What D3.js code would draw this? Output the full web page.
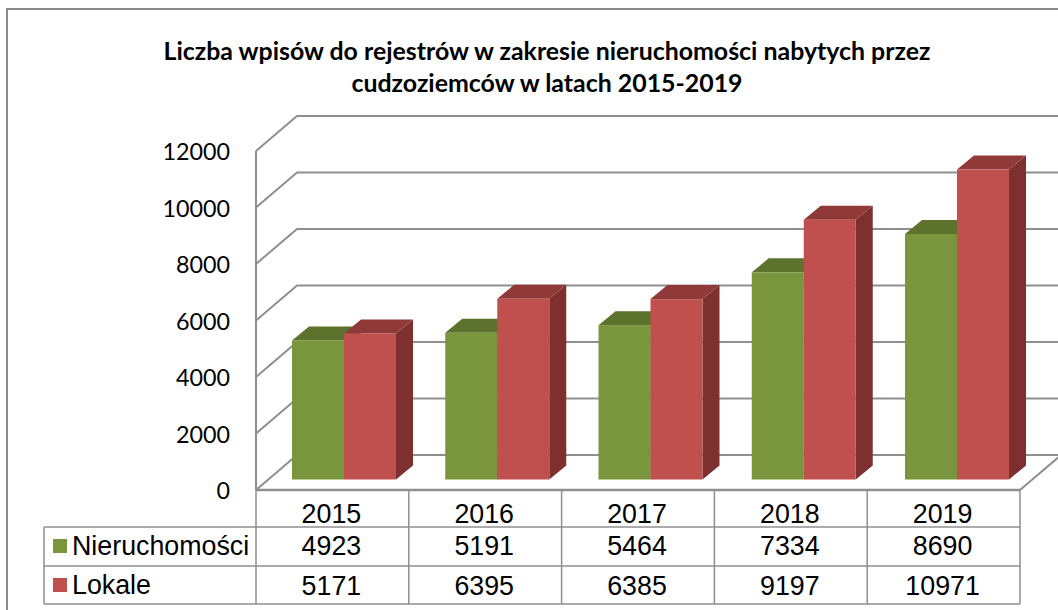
<!DOCTYPE html>
<html><head><meta charset="utf-8">
<script src="https://cdn.jsdelivr.net/npm/d3@7"></script>
<style>html,body{margin:0;padding:0;background:#fff;overflow:hidden}svg{display:block}</style>
</head><body><svg id="c" width="1058" height="610"></svg>
<script>
const years = ["2015","2016","2017","2018","2019"];
const nieruchomosci = [4923,5191,5464,7334,8690];
const lokale = [5171,6395,6385,9197,10971];
const yTicks = [0,2000,4000,6000,8000,10000,12000];
const seriesNames = ["Nieruchomości","Lokale"];
const titleLines = ["Liczba wpisów do rejestrów w zakresie nieruchomości nabytych przez","cudzoziemców w latach 2015-2019"];

const svg = d3.select("#c");
const grid = "#8f8f8f";
const depthX = 41, depthY = 35, barDX = 17, barDY = 14;
const y = d3.scaleLinear().domain([0,12000]).range([490,151]);
const x = d3.scaleBand().domain(years).range([256,1020]);
const xBars = d3.scaleBand().domain(years).range([292,292+5*153.25]);
const barW = 52;
const base = 479.5;
const h = d => y(0) - y(d);

// frame
svg.append("path").attr("d","M7,610V9H1058").attr("fill","none").attr("stroke","#8a8a8a").attr("stroke-width",2);

// title
svg.append("g").selectAll("text").data(titleLines).join("text")
  .attr("x",547).attr("y",(d,i)=>60+i*32).attr("text-anchor","middle")
  .attr("font-family","Lato").attr("font-weight",700).attr("font-size",24.9).attr("fill","#000").text(d=>d);

// walls
const line = d3.line();
svg.append("g").selectAll("path").data(yTicks).join("path")
  .attr("d",t=>line([[256,y(t)],[256+depthX,y(t)-depthY],[1058,y(t)-depthY]]))
  .attr("fill","none").attr("stroke",grid).attr("stroke-width",2);
svg.append("path").attr("d",line([[256,y(0)],[256,y(12000)]])).attr("stroke",grid).attr("stroke-width",2).attr("fill","none");
svg.append("path").attr("d",line([[1020,y(0)],[1020+depthX,y(0)-depthY]])).attr("stroke",grid).attr("stroke-width",2).attr("fill","none");

// y labels
svg.append("g").selectAll("text").data(yTicks).join("text")
  .attr("x",230).attr("y",t=>y(t)+9).attr("text-anchor","end")
  .attr("font-family","Lato").attr("font-size",23.3).attr("fill","#000").text(t=>t);

// bars
function drawBar(g, v, bx, cols){
  const top = base - h(v);
  g.append("path").attr("d",line([[bx+barW,top],[bx+barW+barDX,top-barDY],[bx+barW+barDX,base-barDY],[bx+barW,base]])+"Z").attr("fill",cols[2]);
  g.append("path").attr("d",line([[bx,top],[bx+barDX,top-barDY],[bx+barW+barDX,top-barDY],[bx+barW,top]])+"Z").attr("fill",cols[1]);
  g.append("rect").attr("x",bx).attr("y",top).attr("width",barW).attr("height",base-top).attr("fill",cols[0]);
}
const green = ["#7a963c","#5c722d","#4f6327"], red = ["#c0504d","#8f3a39","#7e302e"];
const gBars = svg.append("g");
years.forEach((yr,i)=>{
  const bx = xBars(yr);
  drawBar(gBars, nieruchomosci[i], bx, green);
  drawBar(gBars, lokale[i], bx+barW, red);
});

// table
const rowsY = [490,527,566,604];
const tg = svg.append("g").attr("stroke",grid).attr("stroke-width",1.5).attr("fill","none");
rowsY.slice(1).forEach(r=>tg.append("path").attr("d",line([[44,r],[1020,r]])));
tg.append("path").attr("d",line([[44,rowsY[1]],[44,rowsY[3]]]));
[...years.map(d=>x(d)),1020].forEach(v=>tg.append("path").attr("d",line([[v,490],[v,604]])));
svg.append("path").attr("d",line([[256,490],[1020,490]])).attr("stroke",grid).attr("stroke-width",2.5);

const tf = {"font-family":"Liberation Sans","font-size":26.8,"fill":"#000"};
function cell(sel){ for(const k in tf) sel.attr(k,tf[k]); return sel; }
const rows = [years,nieruchomosci,lokale];
const rowBase = [523,555,595];
rows.forEach((vals,ri)=>{
  cell(svg.append("g").selectAll("text").data(vals).join("text"))
    .attr("x",(d,i)=>x(years[i])+x.bandwidth()/2-1).attr("y",rowBase[ri]).attr("text-anchor","middle").text(d=>d);
});
seriesNames.forEach((n,i)=>{
  svg.append("rect").attr("x",53).attr("y",[539,578][i]).attr("width",14).attr("height",14).attr("fill",[green[0],red[0]][i]);
  cell(svg.append("text")).attr("x",72).attr("y",[555,594][i]).text(n);
});
</script></body></html>
